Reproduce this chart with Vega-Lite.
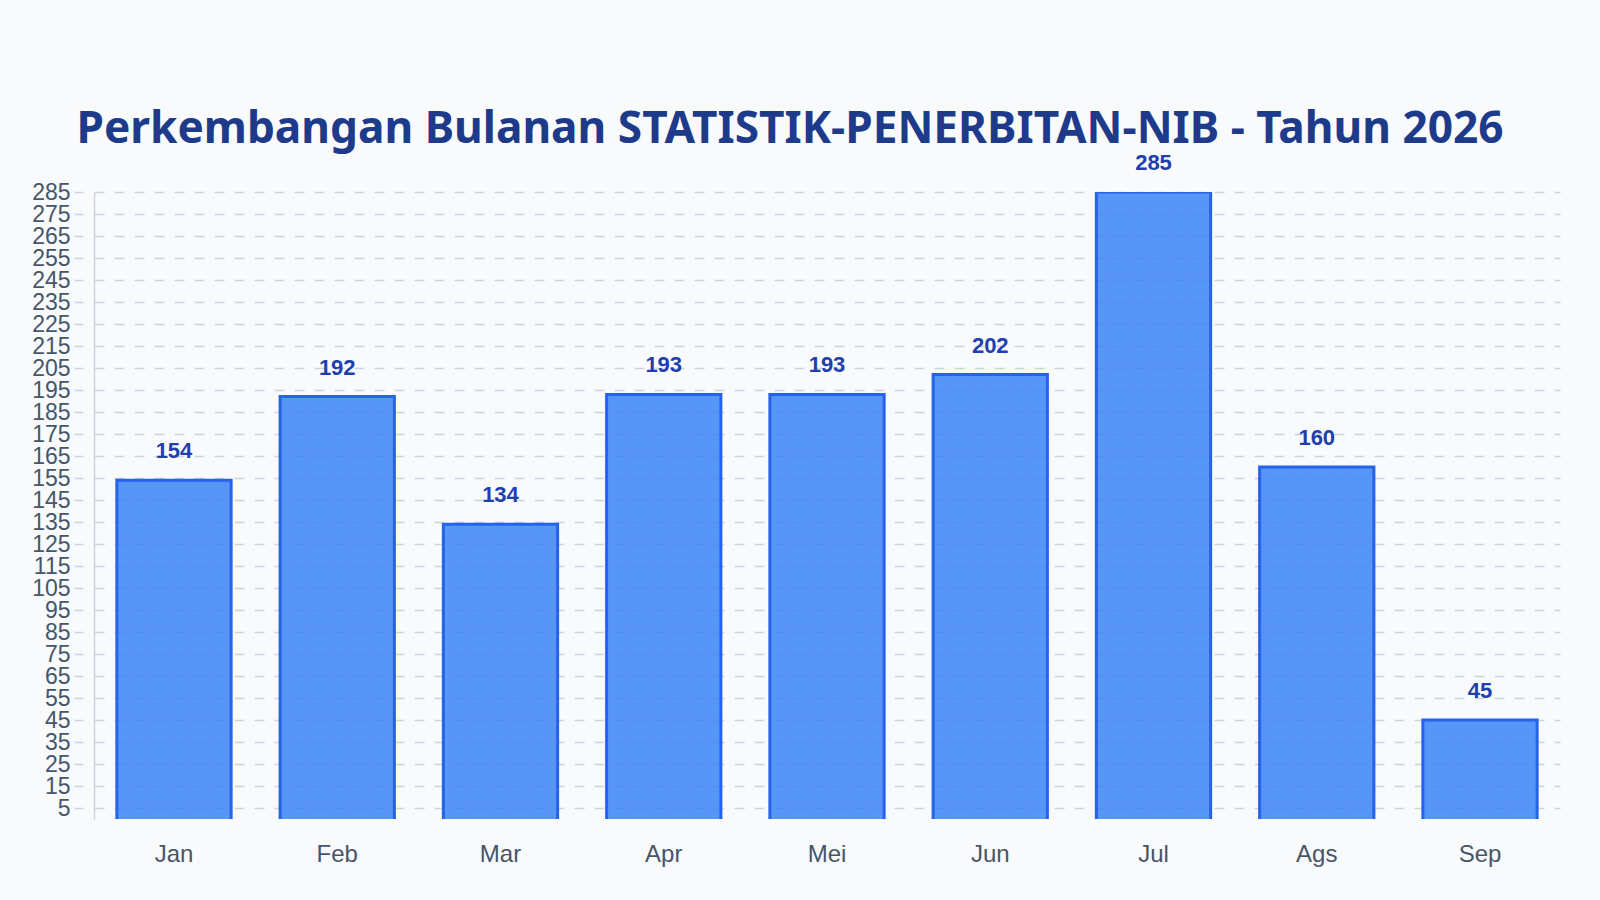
{
  "$schema": "https://vega.github.io/schema/vega-lite/v6.json",
  "autosize": "none",
  "width": 1466,
  "height": 627,
  "padding": {"left": 94, "top": 192, "right": 40, "bottom": 81},
  "background": "#f8fafc",
  "title": {
    "text": "Perkembangan Bulanan STATISTIK-PENERBITAN-NIB - Tahun 2026",
    "font": "Noto Sans",
    "fontSize": 44.2,
    "fontWeight": "bold",
    "color": "#1e3a8a",
    "anchor": "middle",
    "baseline": "alphabetic",
    "dx": -37,
    "dy": 82,
    "offset": 47
  },
  "data": {
    "values": [
      {"bulan": "Jan", "jumlah": 154},
      {"bulan": "Feb", "jumlah": 192},
      {"bulan": "Mar", "jumlah": 134},
      {"bulan": "Apr", "jumlah": 193},
      {"bulan": "Mei", "jumlah": 193},
      {"bulan": "Jun", "jumlah": 202},
      {"bulan": "Jul", "jumlah": 285},
      {"bulan": "Ags", "jumlah": 160},
      {"bulan": "Sep", "jumlah": 45}
    ]
  },
  "encoding": {
    "x": {
      "field": "bulan",
      "type": "nominal",
      "sort": null,
      "title": null,
      "scale": {"paddingInner": 0.3, "paddingOuter": 0.14},
      "axis": {
        "domain": false,
        "ticks": false,
        "grid": false,
        "labelAngle": 0,
        "labelFont": "Liberation Sans",
        "labelFontSize": 24,
        "labelColor": "#475569",
        "labelPadding": 23
      }
    },
    "y": {
      "field": "jumlah",
      "type": "quantitative",
      "title": null,
      "scale": {"domain": [0, 285], "nice": false, "zero": true},
      "axis": {
        "values": [5, 15, 25, 35, 45, 55, 65, 75, 85, 95, 105, 115, 125, 135, 145, 155, 165, 175, 185, 195, 205, 215, 225, 235, 245, 255, 265, 275, 285],
        "labelOverlap": false,
        "domainColor": "#cbd5e1",
        "domainWidth": 1.5,
        "grid": true,
        "gridColor": "#cbd5e1",
        "gridDash": [10, 10],
        "gridWidth": 1.5,
        "tickColor": "#cbd5e1",
        "tickWidth": 1.5,
        "tickSize": 20,
        "tickDash": [9, 11],
        "tickDashOffset": 9,
        "labelFont": "Liberation Sans",
        "labelFontSize": 23,
        "labelColor": "#475569",
        "labelPadding": 4
      }
    }
  },
  "layer": [
    {
      "mark": {
        "type": "bar",
        "clip": true,
        "fill": "#3b82f6",
        "fillOpacity": 0.85,
        "stroke": "#2563eb",
        "strokeWidth": 3
      },
      "encoding": {
        "y2": {"datum": -3}
      }
    },
    {
      "mark": {
        "type": "text",
        "font": "Liberation Sans",
        "fontSize": 22,
        "fontWeight": "bold",
        "color": "#1e40af",
        "baseline": "alphabetic",
        "dy": -22
      },
      "encoding": {
        "text": {"field": "jumlah", "type": "quantitative"}
      }
    }
  ],
  "config": {
    "view": {"stroke": null}
  }
}
